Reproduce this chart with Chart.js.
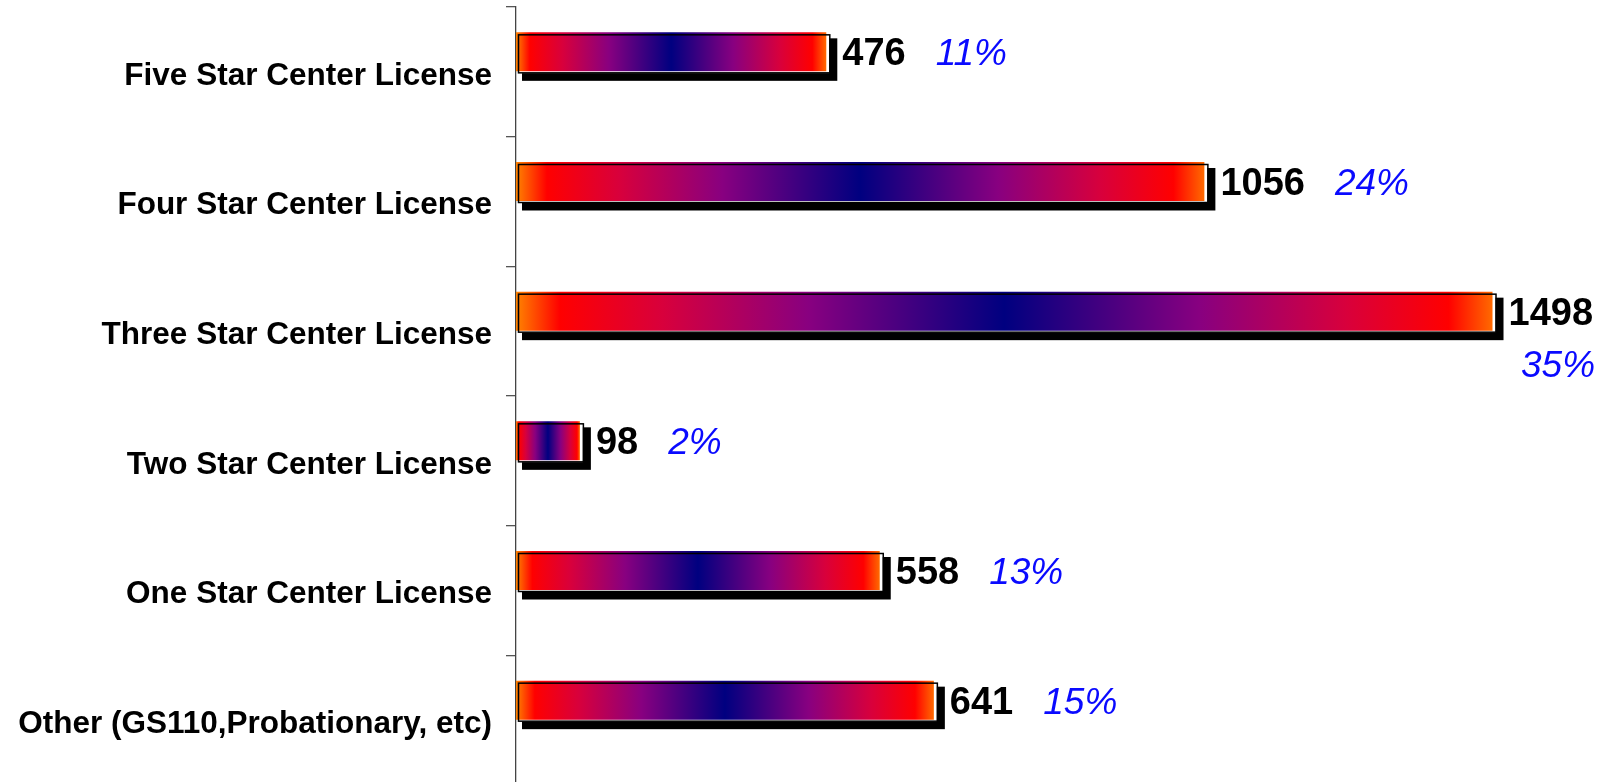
<!DOCTYPE html>
<html>
<head>
<meta charset="utf-8">
<script src="https://cdn.jsdelivr.net/npm/chart.js@4/dist/chart.umd.min.js"></script>
<style>
  html, body { margin: 0; padding: 0; background: #fff; overflow: hidden; }
  #wrap { width: 1610px; height: 790px; }
</style>
</head>
<body>
<div id="wrap"><canvas id="c" width="1610" height="790"></canvas></div>
<script>
// License categories, top to bottom
const categories = [
  'Five Star Center License',
  'Four Star Center License',
  'Three Star Center License',
  'Two Star Center License',
  'One Star Center License',
  'Other (GS110,Probationary, etc)'
];
// Number of licensed centers in each category
const centerCounts = [476, 1056, 1498, 98, 558, 641];

const FAMILY = '"Liberation Sans", Arial, Helvetica, sans-serif';
const total = centerCounts.reduce((a, b) => a + b, 0);
const shareLabels = centerCounts.map(v => Math.round(v / total * 100) + '%');

// Horizontal fire-style gradient spanning a single bar
function barGradient(context) {
  const chart = context.chart;
  const xs = chart.scales.x;
  if (!xs || context.raw == null) return '#ff0000';
  const x0 = xs.getPixelForValue(0);
  const x1 = xs.getPixelForValue(context.raw);
  if (!isFinite(x0) || !isFinite(x1) || x1 === x0) return '#ff0000';
  const g = chart.ctx.createLinearGradient(x0, 0, x1, 0);
  g.addColorStop(0.000, '#ff8400');
  g.addColorStop(0.045, '#ff0000');
  g.addColorStop(0.150, '#d8003c');
  g.addColorStop(0.300, '#880080');
  g.addColorStop(0.500, '#000080');
  g.addColorStop(0.700, '#880080');
  g.addColorStop(0.850, '#d8003c');
  g.addColorStop(0.955, '#ff0000');
  g.addColorStop(1.000, '#ff6a00');
  return g;
}

function barBox(bar) {
  const p = bar.getProps(['x', 'y', 'base', 'height'], true);
  return {
    L: Math.min(p.base, p.x), R: Math.max(p.base, p.x),
    T: p.y - p.height / 2, B: p.y + p.height / 2, cy: p.y
  };
}

// Drop shadow, bevel outline and value / share labels for the bars
const barDecor = {
  id: 'barDecor',
  beforeDatasetsDraw(chart) {
    const ctx = chart.ctx;
    chart.getDatasetMeta(0).data.forEach(bar => {
      const { L, R, T, B } = barBox(bar);
      ctx.save();
      ctx.fillStyle = '#000';
      ctx.fillRect(L + 6, T + 6, (R - L) + 5, (B - T) + 3.5);
      ctx.fillStyle = '#fff';
      ctx.fillRect(L + 2, T + 1, (R - L) + 1, (B - T) + 0.8);
      ctx.restore();
    });
  },
  afterDatasetsDraw(chart) {
    const ctx = chart.ctx;
    const meta = chart.getDatasetMeta(0);
    meta.data.forEach((bar, i) => {
      const { L, R, T, B, cy } = barBox(bar);
      ctx.save();
      // outline
      ctx.strokeStyle = '#000';
      ctx.lineWidth = 1.5;
      ctx.strokeRect(L + 2.5, T + 2.5, (R - L) + 1, (B - T) - 1);

      // value label
      const valueSize = 38;
      const baseY = cy + 0.355 * valueSize;
      const txt = String(centerCounts[i]);
      ctx.font = 'bold ' + valueSize + 'px ' + FAMILY;
      ctx.fillStyle = '#000';
      ctx.textAlign = 'left';
      ctx.textBaseline = 'alphabetic';
      const vx = R + 16;
      ctx.fillText(txt, vx, baseY);
      const vw = ctx.measureText(txt).width;

      // share label
      ctx.font = 'italic 37px ' + FAMILY;
      ctx.fillStyle = '#0a0aff';
      const pct = shareLabels[i];
      const pw = ctx.measureText(pct).width;
      const px = vx + vw + 30;
      if (px + pw > chart.width - 4) {
        ctx.textAlign = 'right';
        ctx.fillText(pct, vx + vw + 2, baseY + 52);
      } else {
        ctx.fillText(pct, px, baseY);
      }
      ctx.restore();
    });
  }
};

new Chart(document.getElementById('c'), {
  type: 'bar',
  data: {
    labels: categories,
    datasets: [
      {
        label: 'Centers',
        data: centerCounts,
        backgroundColor: barGradient,
        borderWidth: 0,
        categoryPercentage: 0.617,
        barPercentage: 0.975
      },
      {
        // empty companion series: keeps each bar in the upper part of its row
        label: '',
        data: centerCounts.map(() => null),
        backgroundColor: 'rgba(0,0,0,0)',
        borderWidth: 0,
        categoryPercentage: 0.617,
        barPercentage: 0.975
      }
    ]
  },
  options: {
    indexAxis: 'y',
    responsive: false,
    animation: false,
    devicePixelRatio: 1,
    layout: { padding: { left: 0, right: 51, top: 7, bottom: 5 } },
    plugins: {
      legend: { display: false },
      tooltip: { enabled: false },
      title: { display: false }
    },
    scales: {
      x: {
        display: false,
        min: 0,
        max: 1600
      },
      y: {
        offset: true,
        grid: {
          offset: true,
          drawOnChartArea: false,
          drawTicks: true,
          tickLength: 10,
          color: '#555',
          lineWidth: 1.3
        },
        border: { display: true, color: '#444', width: 1.3 },
        ticks: {
          autoSkip: false,
          padding: 14,
          labelOffset: 4,
          color: '#000',
          font: { family: FAMILY, size: 31.5, weight: 'bold' }
        },
        afterFit(scale) {
          scale.width = 516;
          scale.paddingTop = 0;
          scale.paddingBottom = 0;
        }
      }
    }
  },
  plugins: [barDecor]
});
</script>
</body>
</html>
